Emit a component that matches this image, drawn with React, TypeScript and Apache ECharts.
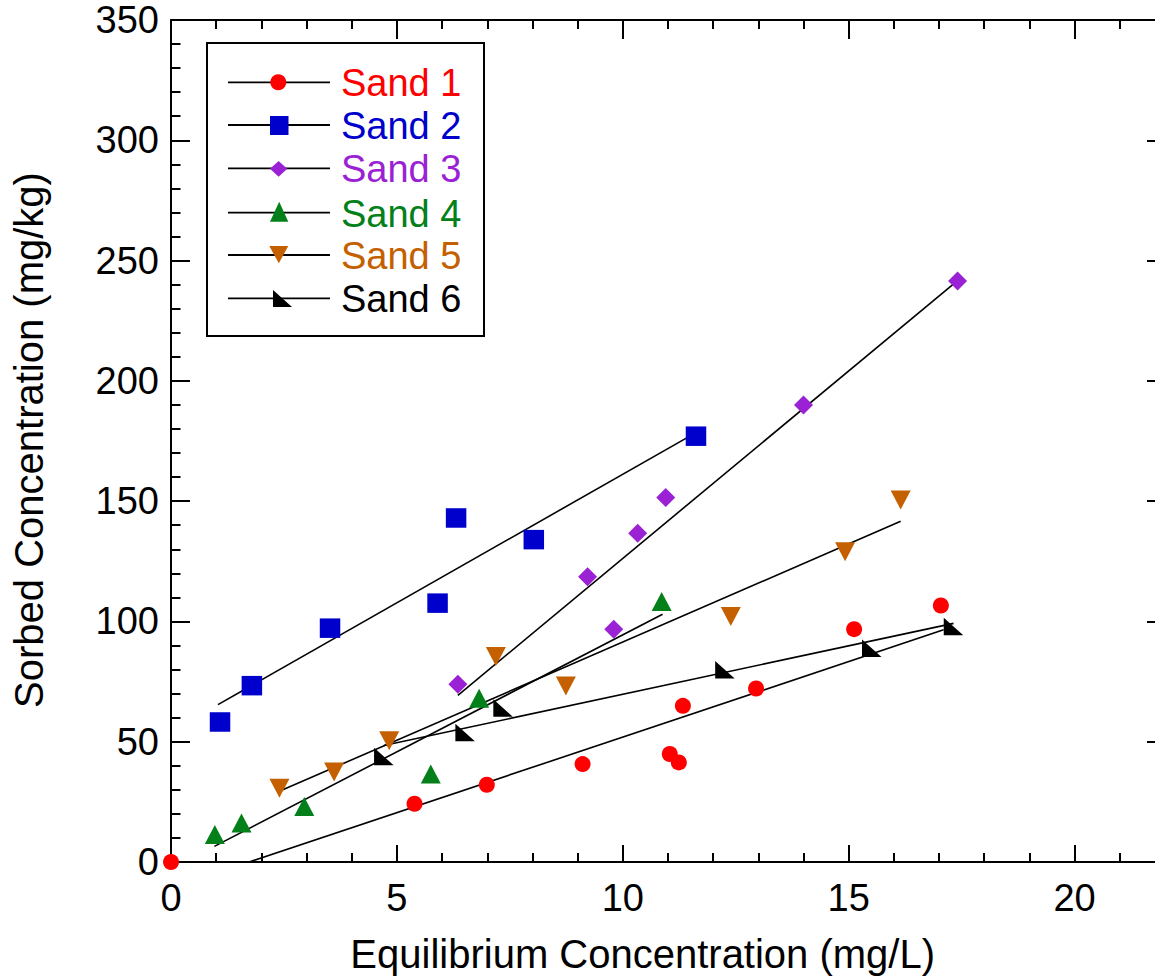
import React, { useEffect, useRef } from 'react';
import * as echarts from 'echarts';

// ---- data ----
const sand1X = [0, 5.39, 6.99, 9.11, 11.04, 11.24, 11.33, 12.95, 15.12, 17.04];
const sand1Y = [0, 24.2, 32.1, 40.7, 44.9, 41.4, 64.9, 72.1, 96.8, 106.6];

const sand2X = [1.085, 1.79, 3.52, 5.9, 6.31, 8.03, 11.62];
const sand2Y = [58.2, 73.3, 97.2, 107.6, 143.0, 134.0, 177.0];

const sand3X = [6.35, 9.22, 9.8, 10.33, 10.95, 14.0, 17.41];
const sand3Y = [73.9, 118.6, 96.8, 136.7, 151.5, 190.0, 241.5];

const sand4X = [0.97, 1.56, 2.95, 5.75, 6.82, 10.86];
const sand4Y = [11.4, 16.2, 23.1, 36.6, 68.1, 108.3];

const sand5X = [2.4, 3.61, 4.83, 7.19, 8.74, 12.39, 14.92, 16.15];
const sand5Y = [30.7, 37.4, 50.4, 85.4, 73.2, 102.0, 129.0, 150.5];

const sand6X = [4.71, 6.51, 7.35, 12.26, 15.51, 17.32];
const sand6Y = [43.9, 53.8, 64.0, 79.9, 88.9, 97.9];

// fitted lines: [x, y] end points
const fit1 = [[1.73, 0], [17.1, 96.5]];
const fit2 = [[1.04, 65.4], [11.62, 178.5]];
const fit3 = [[6.35, 69.3], [17.41, 241.7]];
const fit4 = [[0.96, 6.5], [10.88, 103.0]];
const fit5 = [[2.41, 29.5], [16.15, 141.6]];
const fit6 = [[4.71, 48.4], [17.32, 99.2]];

const seriesNames = ['Sand 1', 'Sand 2', 'Sand 3', 'Sand 4', 'Sand 5', 'Sand 6'];
const seriesColors = ['#FF0000', '#0000CC', '#9A22D4', '#038019', '#C46000', '#000000'];

const xTitle = 'Equilibrium Concentration (mg/L)';
const yTitle = 'Sorbed Concentration (mg/kg)';

const FONT = '"Liberation Sans", Arial, Helvetica, sans-serif';
const SAND6_PATH = 'path://M0,0L0,17L19,17Z';

const zip = (xs: number[], ys: number[]) => xs.map((x, i) => [x, ys[i]]);

export default function App() {
  const ref = useRef<HTMLDivElement>(null);

  useEffect(() => {
    const chart = echarts.init(ref.current!, null, { renderer: 'svg' });

    const tickLine = { color: '#000', width: 2 };
    const axisBase = {
      type: 'value' as const,
      axisLine: { show: true, onZero: false, lineStyle: tickLine },
      splitLine: { show: false },
      minorSplitLine: { show: false },
    };

    const fits = [fit1, fit2, fit3, fit4, fit5, fit6];
    const lineSeries = fits.map((f, i) => ({
      name: seriesNames[i] + ' fit',
      type: 'line',
      xAxisIndex: 0,
      yAxisIndex: 0,
      data: f,
      symbol: 'none',
      showSymbol: false,
      silent: true,
      clip: false,
      lineStyle: { color: '#000', width: 1.6 },
      z: 2,
    }));

    const pts = [
      zip(sand1X, sand1Y),
      zip(sand2X, sand2Y),
      zip(sand3X, sand3Y),
      zip(sand4X, sand4Y),
      zip(sand5X, sand5Y),
      zip(sand6X, sand6Y),
    ];
    const symbols: any[] = [
      { symbol: 'circle', symbolSize: 16 },
      { symbol: 'rect', symbolSize: [20.5, 19.5] },
      { symbol: 'diamond', symbolSize: [19, 19] },
      { symbol: 'triangle', symbolSize: [20, 19] },
      { symbol: 'triangle', symbolSize: [20, 19], symbolRotate: 180 },
      { symbol: SAND6_PATH, symbolSize: [19.5, 17.5] },
    ];
    const scatterSeries = pts.map((d, i) => ({
      name: seriesNames[i],
      type: 'scatter',
      xAxisIndex: 0,
      yAxisIndex: 0,
      data: d,
      clip: false,
      itemStyle: { color: seriesColors[i], opacity: 1 },
      z: 3,
      ...symbols[i],
    }));

    // legend (drawn with graphic elements)
    const rowY = [82.3, 125, 168.3, 212.7, 255, 298.3];
    const legendEls: any[] = [
      {
        type: 'rect',
        shape: { x: 207, y: 43, width: 277, height: 293 },
        style: { fill: '#fff', stroke: '#000', lineWidth: 2 },
        z: 10,
      },
    ];
    rowY.forEach((y, i) => {
      legendEls.push({
        type: 'line',
        shape: { x1: 228, y1: y, x2: 330, y2: y },
        style: { stroke: '#000', lineWidth: 1.8 },
        z: 11,
      });
      legendEls.push({
        type: 'text',
        x: 341,
        y: y + 1,
        style: {
          text: seriesNames[i],
          fill: seriesColors[i],
          fontSize: 38,
          fontFamily: FONT,
          align: 'left',
          verticalAlign: 'middle',
        },
        z: 11,
      });
    });
    const mk = { z: 12 };
    legendEls.push(
      { type: 'circle', shape: { cx: 278.3, cy: rowY[0], r: 8 }, style: { fill: seriesColors[0] }, ...mk },
      { type: 'rect', shape: { x: 270, y: 116, width: 18.5, height: 19 }, style: { fill: seriesColors[1] }, ...mk },
      {
        type: 'polygon',
        shape: { points: [[278.6, 161], [287.3, 168.8], [278.6, 176.7], [270, 168.8]] },
        style: { fill: seriesColors[2] },
        ...mk,
      },
      {
        type: 'polygon',
        shape: { points: [[279.2, 201.7], [288.3, 221.7], [270, 221.7]] },
        style: { fill: seriesColors[3] },
        ...mk,
      },
      {
        type: 'polygon',
        shape: { points: [[269.3, 246], [288.3, 246], [278.8, 263.3]] },
        style: { fill: seriesColors[4] },
        ...mk,
      },
      {
        type: 'polygon',
        shape: { points: [[273, 290], [273, 307], [292, 307]] },
        style: { fill: seriesColors[5] },
        ...mk,
      }
    );

    const titles: any[] = [
      {
        type: 'text',
        x: 642.7,
        y: 954,
        style: { text: xTitle, fill: '#000', fontSize: 40, fontFamily: FONT, align: 'center', verticalAlign: 'middle' },
      },
      {
        type: 'text',
        x: 29,
        y: 440,
        rotation: Math.PI / 2,
        style: { text: yTitle, fill: '#000', fontSize: 40, fontFamily: FONT, align: 'center', verticalAlign: 'middle' },
      },
    ];

    const option: any = {
      animation: false,
      backgroundColor: '#fff',
      grid: [
        { left: 171, top: 20, width: 1129.5, height: 842, outerBoundsMode: 'none', containLabel: false },
        { left: 171, top: 20, width: 994, height: 842, outerBoundsMode: 'none', containLabel: false },
      ],
      xAxis: [
        {
          ...axisBase,
          gridIndex: 0,
          position: 'bottom',
          min: 0,
          max: 25,
          interval: 5,
          axisTick: { show: true, inside: true, length: 17, lineStyle: tickLine },
          minorTick: { show: true, splitNumber: 5, length: 9, lineStyle: tickLine },
          axisLabel: {
            show: true,
            margin: 17,
            color: '#000',
            fontSize: 38,
            fontFamily: FONT,
            showMaxLabel: false,
            formatter: (v: number) => (v <= 20 ? String(v) : ''),
          },
        },
        {
          ...axisBase,
          gridIndex: 0,
          position: 'top',
          min: 0,
          max: 25,
          interval: 5,
          axisTick: { show: true, inside: true, length: 19, lineStyle: tickLine },
          minorTick: { show: true, splitNumber: 5, length: 9, lineStyle: tickLine },
          axisLabel: { show: false },
        },
        { type: 'value', gridIndex: 1, min: 0, max: 22, show: false },
      ],
      yAxis: [
        {
          ...axisBase,
          gridIndex: 0,
          position: 'left',
          min: 0,
          max: 350,
          interval: 50,
          axisTick: { show: true, inside: true, length: 19, lineStyle: tickLine },
          minorTick: { show: true, splitNumber: 5, length: 9.5, lineStyle: tickLine },
          axisLabel: { show: true, margin: 12, color: '#000', fontSize: 38, fontFamily: FONT },
        },
        {
          ...axisBase,
          gridIndex: 1,
          position: 'right',
          min: 0,
          max: 350,
          interval: 50,
          axisTick: { show: true, inside: true, length: 18, lineStyle: tickLine },
          minorTick: { show: true, splitNumber: 5, length: 9, lineStyle: tickLine },
          axisLabel: { show: false },
        },
      ],
      series: [...lineSeries, ...scatterSeries],
      graphic: { elements: [...legendEls, ...titles] },
    };

    chart.setOption(option);
    return () => chart.dispose();
  }, []);

  return (
    <div
      ref={ref}
      style={{ position: 'fixed', left: 0, top: 0, width: 1155, height: 980, background: '#fff' }}
    />
  );
}
